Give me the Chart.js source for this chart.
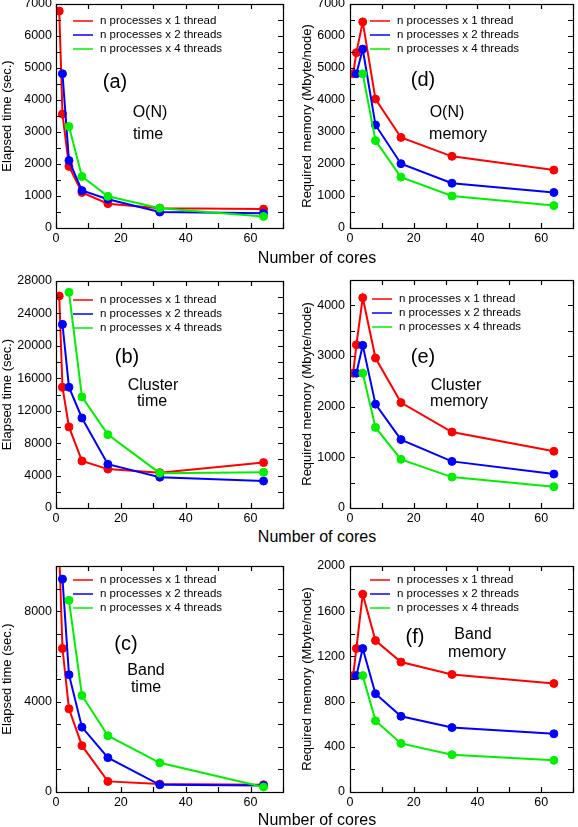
<!DOCTYPE html>
<html>
<head>
<meta charset="utf-8">
<script src="https://cdn.jsdelivr.net/npm/chart.js@4.4.0/dist/chart.umd.min.js"></script>
<style>
  body { margin: 0; background: #fff; }
  #wrap { position: relative; width: 578px; height: 827px; overflow: hidden; font-family: "Liberation Sans", Arial, sans-serif; }
  canvas { position: absolute; }
  .xlab { position: absolute; left: 217px; width: 200px; text-align: center; font-size: 16px; line-height: 16px; color: #000; z-index: 2; }
</style>
</head>
<body>
<div id="wrap">
  <canvas id="chartA" width="290" height="258" style="left:0;top:-10px"></canvas>
  <canvas id="chartD" width="288" height="258" style="left:290px;top:-10px"></canvas>
  <canvas id="chartB" width="290" height="273" style="left:0;top:255px"></canvas>
  <canvas id="chartE" width="288" height="273" style="left:290px;top:255px"></canvas>
  <canvas id="chartC" width="290" height="267" style="left:0;top:545px"></canvas>
  <canvas id="chartF" width="288" height="267" style="left:290px;top:545px"></canvas>
  <div class="xlab" style="top:250px">Number of cores</div>
  <div class="xlab" style="top:529px">Number of cores</div>
  <div class="xlab" style="top:812px">Number of cores</div>
</div>
<script>
// number of cores used by each run type
const coresN1 = [1, 2, 4, 8, 16, 32, 64];
const coresN2 = [2, 4, 8, 16, 32, 64];
const coresN4 = [4, 8, 16, 32, 64];
const seriesNames = ['n processes x 1 thread', 'n processes x 2 threads', 'n processes x 4 threads'];
const seriesColors = ['#ff0000', '#0000ff', '#00f000'];

// (a) O(N) elapsed time
const onTime1 = [6780, 3560, 1925, 1110, 760, 620, 590];
const onTime2 = [4820, 2110, 1170, 900, 500, 460];
const onTime4 = [3170, 1610, 990, 620, 360];
// (d) O(N) memory
const onMem1 = [4820, 5480, 6440, 4030, 2830, 2240, 1810];
const onMem2 = [4820, 5590, 3220, 2010, 1400, 1110];
const onMem4 = [4820, 2730, 1590, 1000, 700];
// (b) Cluster elapsed time
const clTime1 = [26150, 14900, 10000, 5800, 4800, 4360, 5600];
const clTime2 = [22650, 14900, 11100, 5400, 3800, 3330];
const clTime4 = [26600, 13700, 9050, 4300, 4400];
// (e) Cluster memory
const clMem1 = [2660, 3220, 4150, 2960, 2080, 1500, 1120];
const clMem2 = [2660, 3210, 2050, 1350, 920, 670];
const clMem4 = [2660, 1590, 960, 610, 420];
// (c) Band elapsed time
const bdTime1 = [10600, 6350, 3680, 2050, 470, 350, 320];
const bdTime2 = [9420, 5190, 2870, 1520, 320, 290];
const bdTime4 = [8480, 4270, 2490, 1290, 220];
// (f) Band memory
const bdMem1 = [1030, 1270, 1750, 1340, 1150, 1040, 960];
const bdMem2 = [1030, 1270, 870, 670, 570, 515];
const bdMem4 = [1030, 630, 430, 330, 280];

const FONT = '"Liberation Sans", Arial, sans-serif';

function pts(xs, ys) {
  return xs.map((v, i) => ({ x: v, y: ys[i] }));
}

function makePanel(p) {
  const isLeft = p.col === 0;
  const W = isLeft ? 290 : 288;
  const L = isLeft ? 56 : 60;
  const R = isLeft ? 283 : 286;
  const canvas = document.getElementById(p.id);
  const H = canvas.height;

  // legend and text labels inside the plot
  const panelText = {
    id: 'panelText',
    afterDraw(chart) {
      const { ctx, chartArea: a } = chart;
      ctx.save();
      ctx.font = '11.5px ' + FONT;
      ctx.textBaseline = 'middle';
      ctx.textAlign = 'left';
      seriesNames.forEach((name, i) => {
        const yy = a.top + p.legY + i * 14;
        ctx.strokeStyle = seriesColors[i];
        ctx.lineWidth = 1.5;
        ctx.beginPath();
        ctx.moveTo(a.left + p.legX, yy);
        ctx.lineTo(a.left + p.legX + 20, yy);
        ctx.stroke();
        ctx.fillStyle = '#000';
        ctx.fillText(name, a.left + p.legX + 27, yy);
      });
      ctx.textAlign = 'center';
      p.notes.forEach(n => {
        ctx.font = n[3] + 'px ' + FONT;
        ctx.fillText(n[0], a.left + n[1], a.top + n[2]);
      });
      ctx.restore();
    }
  };

  // box frame with inward ticks on all four sides
  const frameTicks = {
    id: 'frameTicks',
    afterDatasetsDraw(chart) {
      const { ctx, chartArea: a, scales } = chart;
      const len = 5;
      ctx.save();
      ctx.strokeStyle = '#000';
      ctx.lineWidth = 1.2;
      ctx.beginPath();
      scales.x.ticks.forEach(t => {
        const px = Math.round(scales.x.getPixelForValue(t.value)) + 0.5;
        ctx.moveTo(px, a.bottom); ctx.lineTo(px, a.bottom - len);
        ctx.moveTo(px, a.top); ctx.lineTo(px, a.top + len);
      });
      scales.y.ticks.forEach(t => {
        const py = Math.round(scales.y.getPixelForValue(t.value)) + 0.5;
        ctx.moveTo(a.left, py); ctx.lineTo(a.left + len, py);
        ctx.moveTo(a.right, py); ctx.lineTo(a.right - len, py);
      });
      ctx.stroke();
      ctx.strokeRect(a.left + 0.5, a.top + 0.5, a.right - a.left, a.bottom - a.top);
      ctx.restore();
    }
  };

  const ds = [p.s1, p.s2, p.s4].map((s, i) => ({
    label: seriesNames[i],
    data: pts([coresN1, coresN2, coresN4][i], s),
    borderColor: seriesColors[i],
    backgroundColor: seriesColors[i],
    borderWidth: 2,
    pointRadius: 4,
    pointBorderWidth: 1,
    tension: 0,
    order: 2 - i
  }));

  new Chart(canvas, {
    type: 'line',
    data: { datasets: ds },
    options: {
      responsive: false,
      animation: false,
      events: [],
      layout: { padding: { left: 0, top: p.top, right: W - R, bottom: 0 } },
      plugins: { legend: { display: false }, tooltip: { enabled: false } },
      scales: {
        x: {
          type: 'linear',
          min: 0,
          max: 70,
          afterFit: s => { s.height = H - p.bottom; },
          grid: { display: false, drawTicks: false },
          border: { display: false },
          ticks: {
            stepSize: 10,
            autoSkip: false,
            maxRotation: 0,
            padding: 3,
            color: '#000',
            font: { family: FONT, size: 12.5 },
            callback: v => (v % 20 === 0 ? String(v) : '')
          }
        },
        y: {
          min: 0,
          max: p.ymax,
          afterFit: s => { s.width = L; },
          grid: { display: false, drawTicks: false },
          border: { display: false },
          title: {
            display: true,
            text: p.ytitle,
            color: '#000',
            padding: { top: isLeft ? 0 : 10, bottom: 0 },
            font: { family: FONT, size: 13 }
          },
          ticks: {
            stepSize: p.ystep,
            autoSkip: false,
            padding: isLeft ? 4 : 5,
            color: '#000',
            font: { family: FONT, size: 12.5 },
            callback: v => (v % p.ylab === 0 ? String(v) : '')
          }
        }
      }
    },
    plugins: [frameTicks, panelText]
  });
}

const timeTitle = 'Elapsed time (sec.)';
const memTitle = 'Required memory (Mbyte/node)';

makePanel({ id: 'chartA', col: 0, top: 14, bottom: 238, ymax: 7000, ystep: 500, ylab: 1000, ytitle: timeTitle,
  s1: onTime1, s2: onTime2, s4: onTime4, legX: 17, legY: 17,
  notes: [['(a)', 59, 78, 20], ['O(N)', 94, 109, 16], ['time', 92, 131, 16]] });
makePanel({ id: 'chartD', col: 1, top: 14, bottom: 238, ymax: 7000, ystep: 500, ylab: 1000, ytitle: memTitle,
  s1: onMem1, s2: onMem2, s4: onMem4, legX: 20, legY: 17,
  notes: [['(d)', 73, 76, 20], ['O(N)', 97, 109, 16], ['memory', 108, 131, 16]] });
makePanel({ id: 'chartB', col: 0, top: 26, bottom: 253, ymax: 28000, ystep: 2000, ylab: 4000, ytitle: timeTitle,
  s1: clTime1, s2: clTime2, s4: clTime4, legX: 17, legY: 19,
  notes: [['(b)', 71, 76, 20], ['Cluster', 97, 105, 16], ['time', 96, 121, 16]] });
makePanel({ id: 'chartE', col: 1, top: 25, bottom: 253, ymax: 4500, ystep: 500, ylab: 1000, ytitle: memTitle,
  s1: clMem1, s2: clMem2, s4: clMem4, legX: 22, legY: 19,
  notes: [['(e)', 73, 77, 20], ['Cluster', 106, 106, 16], ['memory', 109, 122, 16]] });
makePanel({ id: 'chartC', col: 0, top: 21, bottom: 247, ymax: 10000, ystep: 1000, ylab: 4000, ytitle: timeTitle,
  s1: bdTime1, s2: bdTime2, s4: bdTime4, legX: 17, legY: 14,
  notes: [['(c)', 70, 78, 20], ['Band', 90, 105, 16], ['time', 90, 122, 16]] });
makePanel({ id: 'chartF', col: 1, top: 21, bottom: 247, ymax: 2000, ystep: 200, ylab: 400, ytitle: memTitle,
  s1: bdMem1, s2: bdMem2, s4: bdMem4, legX: 20, legY: 14,
  notes: [['(f)', 65, 71, 20], ['Band', 123, 69, 16], ['memory', 127, 87, 16]] });
</script>
</body>
</html>
